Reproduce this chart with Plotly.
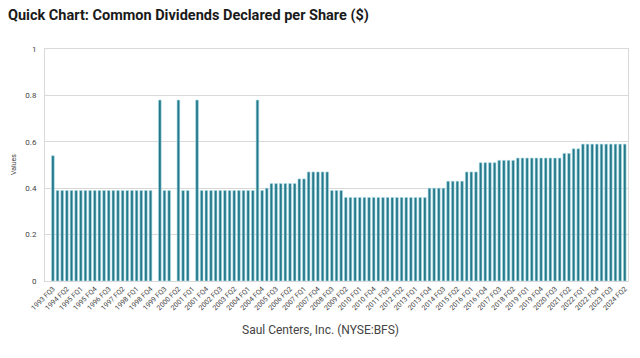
import plotly.graph_objects as go

# Quarterly categories 1993 FQ3 .. 2024 FQ2
years = list(range(1993, 2025))
categories = []
for y in years:
    for q in (1, 2, 3, 4):
        if (y == 1993 and q < 3) or (y == 2024 and q > 2):
            continue
        categories.append(f"{y} FQ{q}")

values = [
    0.54,
    0.39, 0.39, 0.39, 0.39, 0.39, 0.39, 0.39, 0.39, 0.39, 0.39, 0.39,
    0.39, 0.39, 0.39, 0.39, 0.39, 0.39, 0.39, 0.39, 0.39, 0.39,
    None, 0.78, 0.39, 0.39, None, 0.78, 0.39, 0.39, None, 0.78,
    0.39, 0.39, 0.39, 0.39, 0.39, 0.39, 0.39, 0.39, 0.39, 0.39, 0.39, 0.39,
    0.78, 0.39, 0.40,
    0.42, 0.42, 0.42, 0.42, 0.42, 0.42,
    0.44, 0.44,
    0.47, 0.47, 0.47, 0.47, 0.47,
    0.39, 0.39, 0.39,
    0.36, 0.36, 0.36, 0.36, 0.36, 0.36, 0.36, 0.36, 0.36,
    0.36, 0.36, 0.36, 0.36, 0.36, 0.36, 0.36, 0.36, 0.36,
    0.40, 0.40, 0.40, 0.40,
    0.43, 0.43, 0.43, 0.43,
    0.47, 0.47, 0.47,
    0.51, 0.51, 0.51, 0.51,
    0.52, 0.52, 0.52, 0.52,
    0.53, 0.53, 0.53, 0.53, 0.53, 0.53, 0.53, 0.53, 0.53, 0.53,
    0.55, 0.55,
    0.57, 0.57,
    0.59, 0.59, 0.59, 0.59, 0.59, 0.59, 0.59, 0.59, 0.59, 0.59,
]

tick_labels = categories[::3]
y_ticks = [0, 0.2, 0.4, 0.6, 0.8, 1]

fig = go.Figure(go.Bar(
    x=categories, y=values,
    marker=dict(color="#25798B", line=dict(color="#A9DCE6", width=0.6)),
))

fig.update_layout(
    width=632, height=350,
    margin=dict(l=37, r=12, t=41, b=77),
    paper_bgcolor="white", plot_bgcolor="white",
    bargap=0.42,
    showlegend=False,
    font=dict(family="Roboto, Arial, sans-serif", color="#444"),
    title=dict(text="<b>Quick Chart: Common Dividends Declared per Share ($)</b>",
               x=0, xanchor="left", yref="container", y=1, yanchor="top",
               pad=dict(t=2, l=0),
               font=dict(size=14.5, color="#1a1a1a", family="Roboto, Arial, sans-serif")),
    annotations=[
        dict(text="Saul Centers, Inc. (NYSE:BFS)", xref="paper", yref="paper",
             x=0.472, y=-0.211, yanchor="middle", xanchor="center", showarrow=False,
             font=dict(size=12, color="#444")),
        dict(text="Values", xref="paper", yref="paper", x=-0.053, y=0.5,
             xanchor="center", yanchor="middle", textangle=-90, showarrow=False,
             font=dict(size=7, color="#444")),
    ],
)
fig.update_xaxes(
    type="category", tickmode="array", tickvals=tick_labels, ticktext=tick_labels,
    range=[-1.7, len(categories) - 0.3], automargin=False,
    tickangle=-45, tickfont=dict(size=7, color="#444"),
    showgrid=False, showline=True, linecolor="#d9d9d9", linewidth=1, mirror=True,
    ticks="",
)
fig.update_yaxes(
    range=[0, 1], tickvals=y_ticks, ticktext=["0", "0.2", "0.4", "0.6", "0.8", "1"],
    automargin=False,
    tickfont=dict(size=8, color="#444"), showgrid=True, gridcolor="#d9d9d9", gridwidth=1,
    showline=True, linecolor="#d9d9d9", linewidth=1, mirror=True, zeroline=False,
    ticks="outside", ticklen=6, tickcolor="white",
)

fig.write_html("out.html")
